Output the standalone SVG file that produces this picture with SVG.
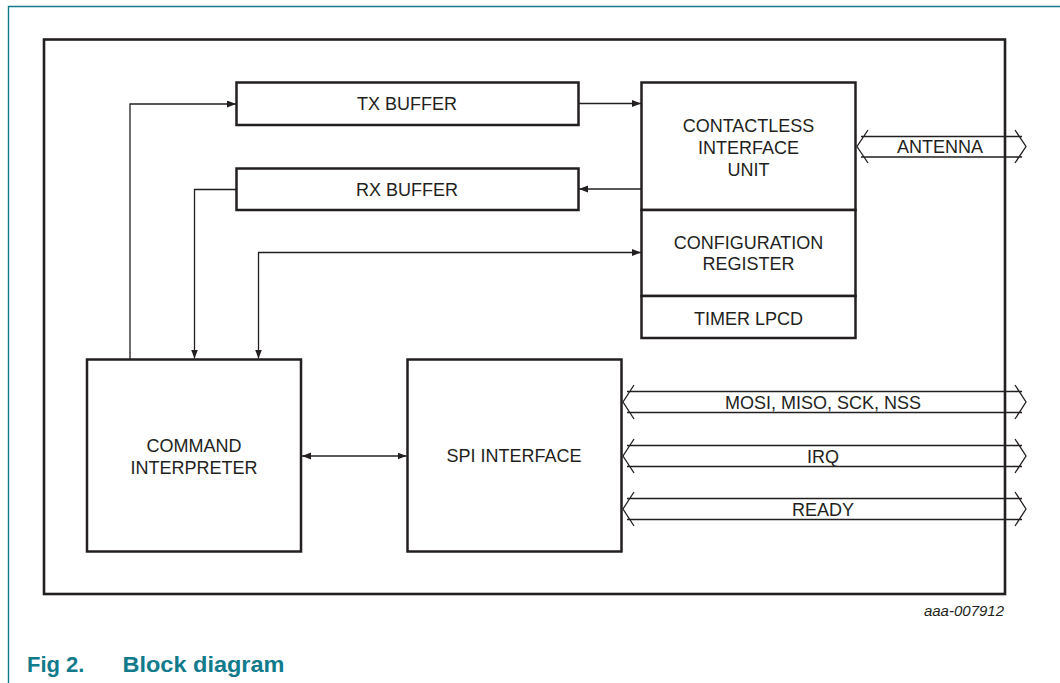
<svg xmlns="http://www.w3.org/2000/svg" width="1060" height="683" viewBox="0 0 1060 683">
<style>
.box{fill:#fff;stroke:#231f20;stroke-width:2.5}
.lbl{font-family:"Liberation Sans",Arial,sans-serif;font-size:18px;fill:#231f20;text-anchor:middle}
.wire{fill:none;stroke:#231f20;stroke-width:1.3}
.bus{fill:none;stroke:#231f20;stroke-width:1.3}
.cap{font-family:"Liberation Sans",Arial,sans-serif;font-weight:bold;font-size:22px;fill:#117a8b}
</style>
<defs>
<marker id="ah" markerUnits="userSpaceOnUse" markerWidth="10" markerHeight="8" refX="9" refY="3.5" orient="auto-start-reverse">
<path d="M0,0 L9,3.5 L0,7 z" fill="#231f20"/>
</marker>
</defs>
<rect width="1060" height="683" fill="#fff"/>
<path d="M8.5,683 V6.5 H1060" fill="none" stroke="#117a8b" stroke-width="1.4"/>
<rect id="outer" x="44" y="39.5" width="961" height="554.5" fill="none" stroke="#231f20" stroke-width="2.6"/>

<g id="tx-buffer"><rect class="box" x="236.5" y="82.5" width="342" height="42.5"/><text class="lbl" x="407" y="110">TX BUFFER</text></g>
<g id="rx-buffer"><rect class="box" x="236.5" y="168.5" width="342" height="41.5"/><text class="lbl" x="407" y="196">RX BUFFER</text></g>
<g id="ciu"><rect class="box" x="641.5" y="82.5" width="214" height="127.5"/><text class="lbl" x="748.5" y="132">CONTACTLESS</text><text class="lbl" x="748.5" y="154">INTERFACE</text><text class="lbl" x="748.5" y="176">UNIT</text></g>
<g id="config"><rect class="box" x="641.5" y="210" width="214" height="86"/><text class="lbl" x="748.5" y="249">CONFIGURATION</text><text class="lbl" x="748.5" y="270">REGISTER</text></g>
<g id="timer"><rect class="box" x="641.5" y="296" width="214" height="42"/><text class="lbl" x="748.5" y="325">TIMER LPCD</text></g>
<g id="cmd"><rect class="box" x="87" y="359.5" width="214" height="192"/><text class="lbl" x="194" y="451.5">COMMAND</text><text class="lbl" x="194" y="473.5">INTERPRETER</text></g>
<g id="spi"><rect class="box" x="407.5" y="359.5" width="214" height="192"/><text class="lbl" x="514" y="462">SPI INTERFACE</text></g>

<g id="connectors">
<path class="wire" d="M130,359 V104 H236" marker-end="url(#ah)"/>
<path class="wire" d="M578.5,103.5 H641" marker-end="url(#ah)"/>
<path class="wire" d="M641.5,189 H579" marker-end="url(#ah)"/>
<path class="wire" d="M236.5,189.5 H194.5 V358.5" marker-end="url(#ah)"/>
<path class="wire" d="M641,252.5 H258.5 V358.5" marker-start="url(#ah)" marker-end="url(#ah)"/>
<path class="wire" d="M302,456 H406.5" marker-start="url(#ah)" marker-end="url(#ah)"/>
<g id="bus-antenna">
<path class="bus" d="M868,130 L857,146.5 L868,163 M1015,130 L1026,146.5 L1015,163 M861,136.5 H1022 M861,157 H1022"/>
<text class="lbl" x="940" y="152.5">ANTENNA</text>
</g>
<g id="bus-spi">
<path class="bus" d="M634,385 L623,402 L634,419 M1015,385 L1026,402 L1015,419 M627,391.5 H1022 M627,412.5 H1022"/>
<text class="lbl" x="823" y="409">MOSI, MISO, SCK, NSS</text>
</g>
<g id="bus-irq">
<path class="bus" d="M634,439 L623,456 L634,473 M1015,439 L1026,456 L1015,473 M627,445.5 H1022 M627,466.5 H1022"/>
<text class="lbl" x="823" y="462.5">IRQ</text>
</g>
<g id="bus-ready">
<path class="bus" d="M634,492 L623,509 L634,526 M1015,492 L1026,509 L1015,526 M627,498.5 H1022 M627,519.5 H1022"/>
<text class="lbl" x="823" y="515.5">READY</text>
</g>
</g>

<text x="1004" y="616" font-family="Liberation Sans,Arial,sans-serif" font-style="italic" font-size="15" fill="#231f20" text-anchor="end">aaa-007912</text>
<text class="cap" x="27" y="671.5">Fig 2.</text>
<text class="cap" x="122.5" y="671.5" textLength="162" lengthAdjust="spacingAndGlyphs">Block diagram</text>
</svg>
